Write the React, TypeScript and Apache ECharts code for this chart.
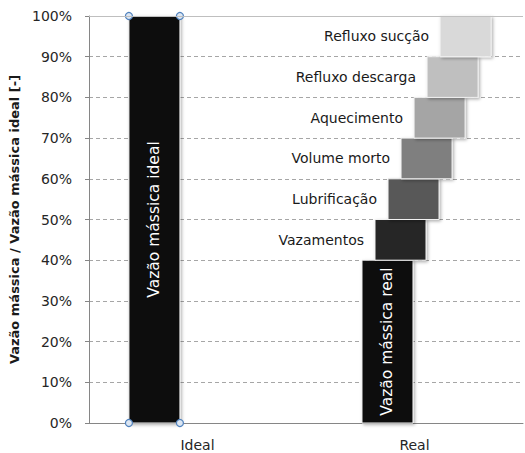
import React, { useEffect, useRef } from 'react';
import * as echarts from 'echarts';

// Mass-flow breakdown: ideal flow vs. real flow plus the individual losses (in %)
const categories = ['Ideal', 'Real'];
const idealFlow = 100;
const realFlow = 40;
const barLabels = ['Vazão mássica ideal', 'Vazão mássica real'];
const lossNames = [
  'Vazamentos',
  'Lubrificação',
  'Volume morto',
  'Aquecimento',
  'Refluxo descarga',
  'Refluxo sucção',
];
const lossValues = [10, 10, 10, 10, 10, 10];
const yAxisTitle = 'Vazão mássica / Vazão mássica ideal [-]';

// Styling constants
const lossPalette = ['#262626', '#595959', '#7f7f7f', '#a5a5a5', '#bfbfbf', '#d9d9d9'];
const FONT = '"DejaVu Sans", sans-serif';

// Bar placement inside a category band (fractions of the band width)
const BAR_WIDTH = 0.235;
const IDEAL_OFFSET = -0.316;
const REAL_OFFSET = -0.242;
const STEP_SHIFT = 0.06;
const LABEL_GAP = 11;

const barShadow = {
  shadowBlur: 3,
  shadowOffsetX: 1.5,
  shadowOffsetY: 1.5,
  shadowColor: 'rgba(0,0,0,0.3)',
};

export default function App() {
  const ref = useRef<HTMLDivElement>(null);

  useEffect(() => {
    if (!ref.current) return;
    const chart = echarts.init(ref.current, undefined, { renderer: 'svg' });

    const baseData = [
      [0, 0, idealFlow, 0],
      [1, 0, realFlow, 1],
    ];

    let acc = realFlow;
    const lossData = lossValues.map((v, i) => {
      const item = [1, acc, acc + v, i];
      acc += v;
      return item;
    });

    const option: any = {
      animation: false,
      backgroundColor: '#ffffff',
      grid: { left: 89, right: 2, top: 16, bottom: 30 },
      xAxis: {
        type: 'category',
        data: categories,
        axisLine: { show: true, lineStyle: { color: '#868686', width: 1 } },
        axisTick: { show: false },
        axisLabel: { fontSize: 14, fontFamily: FONT, color: '#262626', margin: 15 },
        splitLine: { show: false },
      },
      yAxis: {
        type: 'value',
        min: 0,
        max: 100,
        interval: 10,
        name: yAxisTitle,
        nameLocation: 'middle',
        nameGap: 66,
        nameTextStyle: { fontSize: 13, fontWeight: 'bold', fontFamily: FONT, color: '#1a1a1a' },
        axisLine: { show: true, lineStyle: { color: '#868686', width: 1 } },
        axisTick: { show: true, length: 4, lineStyle: { color: '#868686' } },
        axisLabel: {
          formatter: '{value}%',
          fontSize: 14,
          fontFamily: FONT,
          color: '#262626',
          margin: 17,
        },
        splitLine: { show: true, lineStyle: { color: '#a6a6a6', type: [4, 3], width: 1 } },
      },
      series: [
        {
          name: 'base',
          type: 'custom',
          data: baseData,
          encode: { x: 0, y: [1, 2] },
          renderItem: (params: any, api: any) => {
            const cat = api.value(0);
            const lo = api.value(1);
            const hi = api.value(2);
            const idx = api.value(3);
            const p0 = api.coord([cat, lo]);
            const p1 = api.coord([cat, hi]);
            const band = api.size([1, 0])[0];
            const off = cat === 0 ? IDEAL_OFFSET : REAL_OFFSET;
            const x = p0[0] + band * off;
            const w = band * BAR_WIDTH;
            const children: any[] = [
              {
                type: 'rect',
                shape: { x, y: p1[1], width: w, height: p0[1] - p1[1] },
                style: { fill: '#0d0d0d', stroke: '#f2f2f2', lineWidth: 1, ...barShadow },
              },
              {
                type: 'text',
                x: x + w / 2,
                y: (p0[1] + p1[1]) / 2,
                rotation: Math.PI / 2,
                style: {
                  text: barLabels[idx],
                  fill: '#ffffff',
                  font: `15.5px ${FONT}`,
                  align: 'center',
                  verticalAlign: 'middle',
                },
              },
            ];
            if (cat === 0) {
              [x, x + w].forEach((cx) => {
                [p0[1], p1[1]].forEach((cy) => {
                  children.push({
                    type: 'circle',
                    shape: { cx, cy, r: 3.5 },
                    style: { fill: '#dce6f2', stroke: '#4f81bd', lineWidth: 1.2 },
                    z2: 10,
                  });
                });
              });
            }
            return { type: 'group', children };
          },
          markLine: {
            silent: true,
            symbol: 'none',
            label: { show: false },
            lineStyle: { color: '#bfbfbf', type: 'solid', width: 1 },
            data: [{ yAxis: idealFlow }],
          },
          z: 3,
        },
        {
          name: 'losses',
          type: 'custom',
          data: lossData,
          encode: { x: 0, y: [1, 2] },
          renderItem: (params: any, api: any) => {
            const cat = api.value(0);
            const lo = api.value(1);
            const hi = api.value(2);
            const i = api.value(3);
            const p0 = api.coord([cat, lo]);
            const p1 = api.coord([cat, hi]);
            const band = api.size([1, 0])[0];
            const x = p0[0] + band * (REAL_OFFSET + STEP_SHIFT * (i + 1));
            const w = band * BAR_WIDTH;
            return {
              type: 'group',
              children: [
                {
                  type: 'rect',
                  shape: { x, y: p1[1], width: w, height: p0[1] - p1[1] },
                  style: { fill: lossPalette[i], stroke: '#f2f2f2', lineWidth: 1, ...barShadow },
                },
                {
                  type: 'text',
                  x: x - LABEL_GAP,
                  y: (p0[1] + p1[1]) / 2,
                  style: {
                    text: lossNames[i],
                    fill: '#1a1a1a',
                    font: `14px ${FONT}`,
                    align: 'right',
                    verticalAlign: 'middle',
                  },
                },
              ],
            };
          },
          z: 4,
        },
      ],
    };

    chart.setOption(option);
    return () => {
      chart.dispose();
    };
  }, []);

  return (
    <div
      ref={ref}
      style={{ position: 'fixed', left: 0, top: 0, width: 525, height: 453, background: '#fff' }}
    />
  );
}
